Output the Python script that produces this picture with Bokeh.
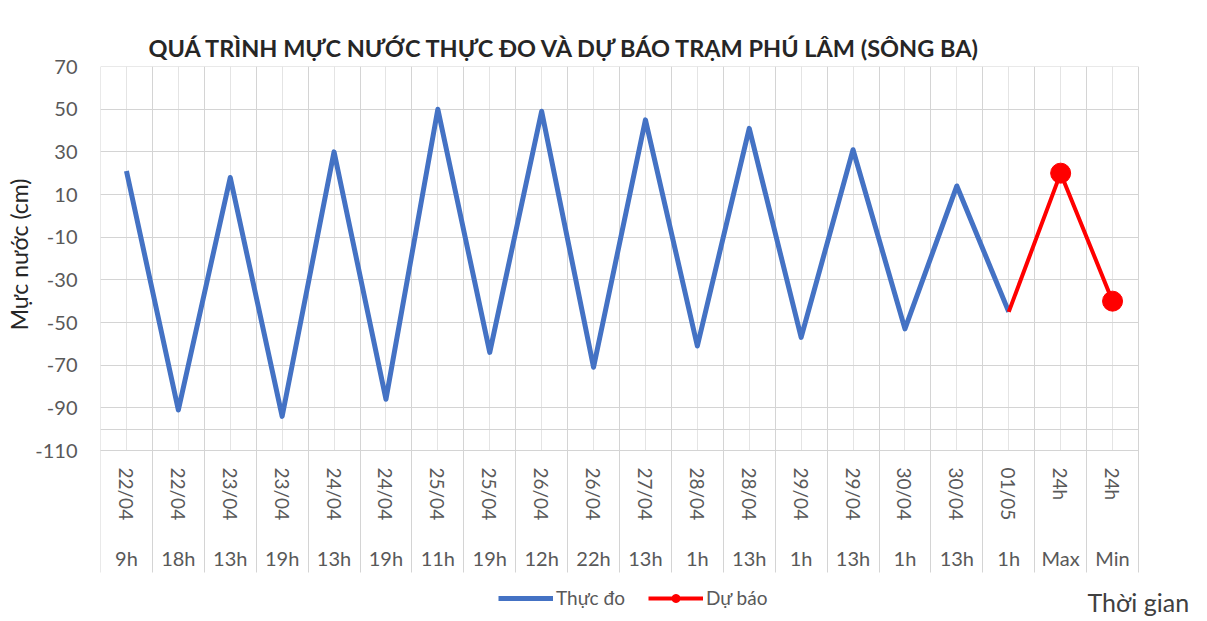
from bokeh.plotting import figure
from bokeh.models import (Range1d, LinearAxis, FixedTicker, Legend, LegendItem, Label, Title)
from bokeh.embed import file_html
from bokeh.resources import INLINE

# ---- data -------------------------------------------------------------
dates = ["22/04", "22/04", "23/04", "23/04", "24/04", "24/04", "25/04", "25/04",
         "26/04", "26/04", "27/04", "28/04", "28/04", "29/04", "29/04", "30/04",
         "30/04", "01/05", "24h", "24h"]
times = ["9h", "18h", "13h", "19h", "13h", "19h", "11h", "19h", "12h", "22h",
         "13h", "1h", "13h", "1h", "13h", "1h", "13h", "1h", "Max", "Min"]
observed = [21, -91, 18, -94, 30, -86, 50, -64, 49, -71, 45, -61, 41, -57, 31, -53, 14, -45]
forecast = [-45, 20, -40]          # 01/05 1h, 24h Max, 24h Min
y_ticks = [-110, -90, -70, -50, -30, -10, 10, 30, 50, 70]
y_min, y_max = -110, 70

FONT = "Lato"
n = len(dates)
idx = list(range(n))
obs_x = idx[:len(observed)]
fc_x = idx[n - len(forecast):]
bounds = [i - 0.5 for i in range(n + 1)]

# ---- layout (pixels) ----------------------------------------------------
W, H = 1205, 619
LEFT, TOP = 100, 66             # frame offsets inside the figure
PLOT_W, PLOT_H = 1038, 384      # size of the gridded plot area
BELOW = H - TOP - PLOT_H        # label band under the plot area (inside frame)
RIGHT_EXTRA = W - LEFT - PLOT_W
DIV = 122                       # length of category dividers below the plot
u_per_px = (y_max - y_min) / PLOT_H
c_per_px = n / PLOT_W

p = figure(width=W, height=H, output_backend="svg", toolbar_location=None,
           x_range=Range1d(-0.5, n - 0.5 + RIGHT_EXTRA * c_per_px),
           y_range=Range1d(y_min - BELOW * u_per_px, y_max),
           x_axis_location=None,
           min_border_left=LEFT, min_border_right=0, min_border_top=TOP, min_border_bottom=0,
           background_fill_color="white", border_fill_color="white")
p.outline_line_color = None
p.xgrid.visible = False
p.ygrid.visible = False

# title
p.title.text = "QUÁ TRÌNH MỰC NƯỚC THỰC ĐO VÀ DỰ BÁO TRẠM PHÚ LÂM (SÔNG BA)"
p.title.text_font = FONT
p.title.text_font_size = "23.5px"
p.title.text_font_style = "bold"
p.title.text_color = "#262626"
p.title.align = "left"
p.title.offset = 48
p.title.standoff = 10

# y axis with labels
ya = p.yaxis[0]
ya.bounds = (y_min, y_max)
ya.ticker = FixedTicker(ticks=y_ticks)
ya.major_label_overrides = {v: str(v) for v in y_ticks}
ya.axis_line_color = None
ya.major_tick_line_color = None
ya.minor_tick_line_color = None
ya.major_tick_out = 0
ya.major_tick_in = 0
ya.major_label_standoff = 23
ya.major_label_text_font = FONT
ya.major_label_text_font_size = "20px"
ya.major_label_text_color = "#595959"

# y-axis title, placed along the gridded area
p.add_layout(Title(text="Mực nước (cm)", align="right", offset=112, standoff=0,
                   text_font=FONT, text_font_size="23px", text_font_style="normal",
                   text_color="#262626"), "left")

# second y axis (underlay, no labels): its inward ticks draw the horizontal grid lines
ygrid_axis = LinearAxis(
    fixed_location=-0.5, level="underlay", bounds=(y_min, y_max),
    ticker=FixedTicker(ticks=y_ticks, minor_ticks=[-100]),
    axis_line_color=None,
    major_tick_out=0, major_tick_in=PLOT_W, major_tick_line_color="#d4d4d4",
    minor_tick_out=0, minor_tick_in=PLOT_W, minor_tick_line_color="#d4d4d4",
    major_label_text_color=None)
p.add_layout(ygrid_axis, "left")

# x axes fixed at the bottom of the plot area: dates (rotated) then times.
# Inward ticks = vertical grid lines; long minor ticks = category dividers.
date_axis = LinearAxis(
    fixed_location=y_min, level="underlay", bounds=(-0.5, n - 0.5),
    ticker=FixedTicker(ticks=idx, minor_ticks=bounds),
    major_label_overrides={i: d for i, d in enumerate(dates)},
    major_label_orientation="vertical",
    major_tick_in=PLOT_H, major_tick_out=0, major_tick_line_color="#e4e4e4",
    minor_tick_in=PLOT_H, minor_tick_out=DIV, minor_tick_line_color="#d4d4d4",
    axis_line_color="#c8c8c8",
    major_label_standoff=17 - DIV,
    major_label_text_font=FONT, major_label_text_font_size="19px",
    major_label_text_color="#595959")
time_axis = LinearAxis(
    fixed_location=y_min, bounds=(-0.5, n - 0.5),
    ticker=FixedTicker(ticks=idx),
    major_label_overrides={i: t for i, t in enumerate(times)},
    major_tick_in=0, major_tick_out=0, major_tick_line_color=None,
    minor_tick_line_color=None, axis_line_color=None,
    major_label_standoff=95,
    major_label_text_font=FONT, major_label_text_font_size="20px",
    major_label_text_color="#595959")
p.add_layout(date_axis, "below")
p.add_layout(time_axis, "below")

# series
blue = p.line(obs_x, observed, line_color="#4472C4", line_width=5, line_join="round")
red_line = p.line(fc_x, forecast, line_color="#FF0000", line_width=4, line_join="round")
red_pts = p.scatter(fc_x[1:], forecast[1:], size=20, marker="circle",
                    fill_color="#FF0000", line_color="#FF0000")

legend = Legend(items=[LegendItem(label="Thực đo", renderers=[blue]),
                       LegendItem(label="Dự báo", renderers=[red_line, red_pts])],
                location=(398, H - 589 - 20), orientation="horizontal",
                glyph_width=55, glyph_height=20, label_standoff=3, spacing=23,
                padding=0, margin=0, border_line_color=None, background_fill_alpha=0,
                label_text_font=FONT, label_text_font_size="19px", label_text_color="#595959")
p.add_layout(legend, "center")

p.add_layout(Label(x=987, y=H - 601, x_units="screen", y_units="screen", text="Thời gian",
                   text_baseline="middle", text_font=FONT, text_font_size="25px",
                   text_color="#404040"))

open("out.html", "w").write(file_html(p, INLINE))
